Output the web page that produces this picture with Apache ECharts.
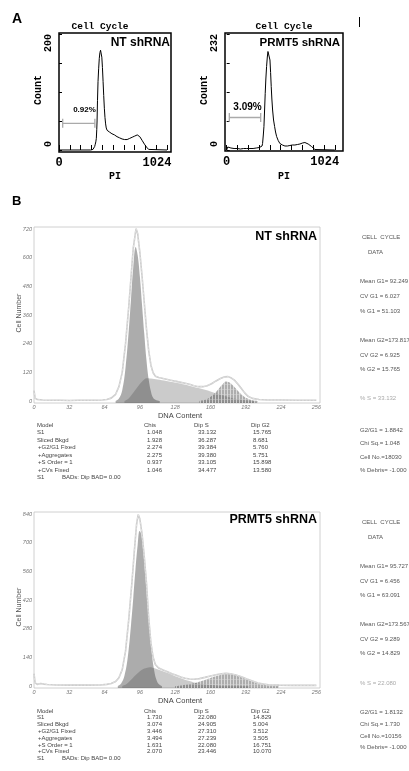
<!DOCTYPE html>
<html>
<head>
<meta charset="utf-8">
<script src="https://cdn.jsdelivr.net/npm/echarts@6/dist/echarts.min.js"></script>
<style>
  html, body { margin: 0; padding: 0; background: #fff; }
  #chart { width: 409px; height: 771px; }
</style>
</head>
<body>
<div id="chart"></div>
<script>
// ---- panel A: cell cycle histograms (PI channel, count) ----
const ntHist = [[0,0],[200,0],[300,0],[322,1],[331,3],[338,6],[344,10],[349,14],[354,20],[358,35],[361,50],[365,85],[370,118],[376,140],[382,158],[388,168],[394,172],[400,170],[406,160],[412,142],[418,118],[424,94],[430,72],[436,56],[442,45],[448,38],[456,34],[466,32],[478,31],[490,29],[502,28],[514,27],[526,26],[538,24],[550,23],[562,22],[574,21],[586,20],[598,19],[610,18],[622,18],[634,17],[646,18],[658,19],[670,20],[682,21],[694,22],[706,23],[718,24],[730,26],[742,26],[754,25],[766,23],[778,20],[790,16],[800,13],[810,10],[820,7],[830,5],[840,3],[850,1],[860,0],[1024,0]];
const prmtHist = [[0,0],[10,6],[20,5],[40,4],[70,3],[100,3],[130,2],[160,3],[190,3],[220,3],[250,3],[280,4],[310,5],[325,6],[335,8],[340,13],[347,30],[353,47],[359,80],[365,113],[371,142],[378,167],[385,186],[391,197],[397,199],[403,193],[410,180],[416,155],[422,127],[428,102],[435,80],[444,60],[454,47],[463,36],[473,27],[488,19],[504,13],[528,10],[552,8],[575,8],[599,9],[622,10],[646,10],[670,11],[694,12],[718,14],[741,15],[757,14],[772,12],[788,10],[804,7],[820,4],[836,1],[850,0],[1024,0]];
const ntGateRange = [35, 340];
const ntGateLevel = 46;
const prmtGateRange = [25, 322];
const prmtGateLevel = 65;
const aXTicks = [0, 102.4, 204.8, 307.2, 409.6, 512, 614.4, 716.8, 819.2, 921.6, 1024];
const aXLabels = [0, 1024];
const ntYTicks = [0, 50, 100, 150, 200];
const ntYLabels = [0, 200];
const prmtYTicks = [0, 58, 116, 174, 232];
const prmtYLabels = [0, 232];

// ---- panel B: ModFit fits (DNA content channel, cell number) ----
const ntRaw = [[0,45],[1,12],[3,6],[8,4],[16,3],[24,3],[32,2],[40,3],[48,3],[56,3],[62,4],[66,6],[70,12],[74,28],[77,60],[80,120],[83,240],[86,400],[88,520],[90,640],[92.5,722],[94,700],[96,620],[98,520],[100,410],[102,300],[104,210],[106,150],[108,118],[110,104],[113,98],[117,94],[121,90],[125,86],[129,82],[133,78],[137,74],[141,70],[145,64],[149,60],[153,60],[157,64],[161,72],[165,84],[169,94],[173,101],[176,102],[179,96],[182,86],[185,70],[188,52],[191,34],[194,20],[198,11],[204,6],[212,4],[224,4],[240,3],[256,3]];
const ntG1 = [[74,0],[77,10],[80,45],[83,140],[86,300],[88,430],[90,560],[92.2,645],[94,610],[96,520],[98,400],[100,280],[102,170],[104,90],[106,40],[108,14],[111,3],[114,0]];
const ntS = [[82,0],[86,12],[90,35],[94,60],[98,82],[102,95],[106,94],[112,90],[120,84],[130,75],[140,65],[150,53],[160,40],[168,28],[176,17],[184,8],[192,3],[200,0]];
const ntG2 = [[150,0],[155,5],[159,14],[163,28],[167,48],[171,70],[174,82],[177,78],[181,62],[185,42],[189,24],[193,11],[197,4],[203,0]];

const prmtRaw = [[0,60],[1,15],[3,8],[6,12],[9,9],[12,7],[20,5],[32,4],[48,4],[60,5],[66,8],[70,12],[74,22],[77,40],[80,80],[83,170],[86,330],[89,520],[91,660],[93,790],[94.5,838],[96,815],[98,740],[100,630],[102,500],[104,330],[106,210],[108,140],[110,105],[113,88],[117,78],[121,70],[125,60],[129,52],[133,44],[137,38],[141,34],[145,33],[150,36],[155,42],[160,49],[165,55],[170,60],[174,62],[178,60],[183,54],[188,45],[193,34],[198,24],[203,15],[208,9],[214,5],[222,4],[235,3],[256,3]];
const prmtG1 = [[76,0],[79,12],[82,50],[85,140],[88,300],[90,430],[92,570],[94,690],[95.7,757],[97,745],[99,660],[101,530],[103,390],[105,260],[107,150],[109,75],[111,30],[113,10],[116,0]];
const prmtS = [[80,0],[84,10],[88,30],[92,52],[96,72],[100,85],[105,92],[110,86],[115,76],[120,66],[125,55],[130,44],[135,34],[140,25],[145,17],[150,11],[158,6],[166,3],[180,1],[195,0]];
const prmtG2 = [[128,0],[134,3],[140,8],[146,15],[152,24],[158,35],[164,46],[170,55],[174,58],[178,57],[184,50],[190,39],[196,26],[202,14],[208,6],[214,2],[222,0]];

const bXLabels = [0, 32, 64, 96, 128, 160, 192, 224, 256];
const ntYLabelsB = [0, 120, 240, 360, 480, 600, 720];
const prmtYLabelsB = [0, 140, 280, 420, 560, 700, 840];

// ---- ModFit tables / stats ----
const tableHead = ['Model', 'Chis', 'Dip S', 'Dip G2'];
const modelNames = ['S1', 'Sliced Bkgd', '+G2/G1 Fixed', '+Aggregates', '+S Order = 1', '+CVs Fixed'];
const ntChis = [1.048, 1.928, 2.274, 2.275, 0.937, 1.046];
const ntDipS = [33.132, 36.287, 39.384, 39.380, 33.105, 34.477];
const ntDipG2 = [15.765, 8.681, 5.760, 5.751, 15.898, 13.580];
const prmtChis = [1.730, 3.074, 3.446, 3.494, 1.631, 2.070];
const prmtDipS = [22.080, 24.905, 27.310, 27.239, 22.080, 23.446];
const prmtDipG2 = [14.829, 5.004, 3.512, 3.505, 16.751, 10.070];
const ntStats = ['Mean G1= 92.249', 'CV G1 = 6.027', '% G1 = 51.103', 'Mean G2=173.817', 'CV G2 = 6.925', '% G2 = 15.765', '% S = 33.132', 'G2/G1 = 1.8842', 'Chi Sq.= 1.048', 'Cell No.=18030', '% Debris= -1.000'];
const prmtStats = ['Mean G1= 95.727', 'CV G1 = 6.456', '% G1 = 63.091', 'Mean G2=173.567', 'CV G2 = 9.289', '% G2 = 14.829', '% S = 22.080', 'G2/G1 = 1.8132', 'Chi Sq.= 1.730', 'Cell No.=10156', '% Debris= -1.000'];

const MONO = "'Liberation Mono', 'DejaVu Sans Mono', monospace";
const SANS = "'Liberation Sans', Arial, sans-serif";

function txt(x, y, text, font, fill, align, rotation) {
  return {
    type: 'text', x: x, y: y, rotation: rotation || 0, silent: true,
    style: { text: text, font: font, fill: fill || '#000', align: align || 'left', verticalAlign: 'middle' }
  };
}

// vertical hatch used for the G2 peak
function hatch() {
  const c = document.createElement('canvas');
  c.width = 3; c.height = 5;
  const g = c.getContext('2d');
  g.fillStyle = 'rgba(60,60,60,0.42)';
  g.fillRect(0, 0, 3, 5);
  g.fillStyle = 'rgba(255,255,255,0.55)';
  g.fillRect(2, 0, 1, 5);
  g.fillStyle = 'rgba(255,255,255,0.25)';
  g.fillRect(0, 4, 2, 1);
  return c;
}
const hatchImg = hatch();

function aXAxis(grid, min, max) {
  return {
    gridIndex: grid, type: 'value', min: min, max: max,
    axisLine: { show: false }, splitLine: { show: false },
    axisTick: { show: true, inside: true, length: 5, customValues: aXTicks, lineStyle: { color: '#000', width: 1 } },
    axisLabel: {
      customValues: aXLabels, margin: 5,
      formatter: v => v === 1024 ? '{r|1024}' : '{c|' + v + '}',
      rich: {
        r: { padding: [0, 20, 0, 0], fontFamily: MONO, fontWeight: 'bold', fontSize: 12, color: '#000' },
        c: { fontFamily: MONO, fontWeight: 'bold', fontSize: 12, color: '#000' }
      }
    }
  };
}
function aYAxis(grid, min, max, ticks, labels) {
  return {
    gridIndex: grid, type: 'value', min: min, max: max,
    axisLine: { show: false }, splitLine: { show: false },
    axisTick: { show: true, inside: true, length: 3, customValues: ticks, lineStyle: { color: '#000', width: 1 } },
    axisLabel: {
      customValues: labels, rotate: 90, margin: 6,
      formatter: v => v === 0 ? '{b|0}' : '{t|' + v + '}',
      rich: {
        t: { padding: [0, 18, 0, 0], fontFamily: MONO, fontWeight: 'bold', fontSize: 10, color: '#000' },
        b: { padding: [0, 0, 0, 12], fontFamily: MONO, fontWeight: 'bold', fontSize: 10, color: '#000' }
      }
    }
  };
}
const bLabel = { fontFamily: SANS, fontStyle: 'italic', fontSize: 5.5, color: '#777' };
function bXAxis(grid) {
  return {
    gridIndex: grid, type: 'value', min: 0, max: 259.3,
    axisLine: { show: false }, splitLine: { show: false }, axisTick: { show: false },
    axisLabel: Object.assign({ customValues: bXLabels, margin: 1 }, bLabel)
  };
}
function bYAxis(grid, min, max, labels) {
  return {
    gridIndex: grid, type: 'value', min: min, max: max,
    axisLine: { show: false }, splitLine: { show: false }, axisTick: { show: false },
    axisLabel: Object.assign({ customValues: labels, margin: 2 }, bLabel)
  };
}

function histSeries(i, data) {
  return { type: 'line', xAxisIndex: i, yAxisIndex: i, data: data, symbol: 'none', silent: true,
    lineStyle: { color: '#000', width: 1 } };
}
function gateSeries(i, range, level) {
  return { type: 'line', xAxisIndex: i, yAxisIndex: i, data: range.map(x => [x, level]),
    symbol: 'rect', symbolSize: [1.3, 9], silent: true,
    itemStyle: { color: '#aaa' }, lineStyle: { color: '#aaa', width: 1.3 } };
}
function area(i, data, color, smooth) {
  return { type: 'line', xAxisIndex: i, yAxisIndex: i, data: data, symbol: 'none', silent: true,
    smooth: smooth, lineStyle: { opacity: 0 }, areaStyle: { color: color, origin: 'start', opacity: 1 } };
}
function rawSeries(i, data) {
  return [
    { type: 'line', xAxisIndex: i, yAxisIndex: i, data: data, symbol: 'none', silent: true,
      lineStyle: { color: '#c6c6c6', width: 1.6 } },
    { type: 'line', xAxisIndex: i, yAxisIndex: i, data: data, symbol: 'none', silent: true,
      lineStyle: { color: '#fff', width: 0.7, type: 'dotted' } }
  ];
}
function modfit(i, raw, s, g1, g2) {
  return [
    area(i, s, 'rgba(70,70,70,0.28)', 0.3),
    area(i, g1, 'rgba(70,70,70,0.45)', 0.4),
    area(i, g2, { image: hatchImg, repeat: 'repeat' }, 0.4)
  ].concat(rawSeries(i, raw));
}

function fmt(v) { return v.toFixed(3); }
function tableGraphics(y0, dy, chis, dipS, dipG2) {
  const f = '6px ' + SANS, c = '#444';
  const out = [
    txt(37, y0, tableHead[0], f, c), txt(144, y0, tableHead[1], f, c),
    txt(194, y0, tableHead[2], f, c), txt(251, y0, tableHead[3], f, c)
  ];
  modelNames.forEach((m, k) => {
    const y = y0 + dy * (k + 1);
    out.push(txt(m[0] === '+' ? 38 : 37, y, m, f, c));
    out.push(txt(147, y, fmt(chis[k]), f, c));
    out.push(txt(198, y, fmt(dipS[k]), f, c));
    out.push(txt(253, y, fmt(dipG2[k]), f, c));
  });
  const yb = y0 + dy * 7;
  out.push(txt(37, yb, 'S1', f, c));
  out.push(txt(62, yb, 'BADs: Dip BAD= 0.00', f, c));
  return out;
}
function statGraphics(ys, stats, yHead) {
  const f = '6px ' + SANS;
  const out = [txt(362, yHead, 'CELL  CYCLE', f, '#555'), txt(368, yHead + 15, 'DATA', f, '#555')];
  stats.forEach((s, k) => out.push(txt(360, ys[k], s, f, k === 6 ? '#aaa' : '#555')));
  return out;
}
const statYTop = [281, 296, 311, 340, 355, 369, 398, 430, 443, 457, 470];
const statYBot = [566, 581, 595, 624, 639, 653, 683, 712.5, 724.5, 736, 747];

const chart = echarts.init(document.getElementById('chart'), null, { renderer: 'canvas' });
const option = {
  animation: false,
  backgroundColor: '#fff',
  grid: [
    { left: 59, top: 33, width: 112, height: 119, show: true, borderColor: '#000', borderWidth: 1.5 },
    { left: 225, top: 33, width: 118, height: 118, show: true, borderColor: '#000', borderWidth: 1.5 },
    { left: 34, top: 227, width: 286, height: 176, show: true, borderColor: '#c4c4c4', borderWidth: 0.8 },
    { left: 34, top: 512, width: 286, height: 176, show: true, borderColor: '#c4c4c4', borderWidth: 0.8 }
  ],
  xAxis: [aXAxis(0, 0, 1062), aXAxis(1, -16, 1102), bXAxis(2), bXAxis(3)],
  yAxis: [
    aYAxis(0, -3.45, 201.7, ntYTicks, ntYLabels),
    aYAxis(1, -2, 234, prmtYTicks, prmtYLabels),
    bYAxis(2, -8.4, 728.4, ntYLabelsB),
    bYAxis(3, -9.8, 849.8, prmtYLabelsB)
  ],
  series: [
    histSeries(0, ntHist), gateSeries(0, ntGateRange, ntGateLevel),
    histSeries(1, prmtHist), gateSeries(1, prmtGateRange, prmtGateLevel)
  ].concat(modfit(2, ntRaw, ntS, ntG1, ntG2), modfit(3, prmtRaw, prmtS, prmtG1, prmtG2)),
  graphic: [
    txt(12, 19.5, 'A', 'bold 14px ' + SANS, '#000'),
    txt(100, 27, 'Cell Cycle', 'bold 9.5px ' + MONO, '#000', 'center'),
    txt(284, 27, 'Cell Cycle', 'bold 9.5px ' + MONO, '#000', 'center'),
    txt(38, 90, 'Count', 'bold 10px ' + MONO, '#000', 'center', Math.PI / 2),
    txt(204, 90, 'Count', 'bold 10px ' + MONO, '#000', 'center', Math.PI / 2),
    txt(115, 176, 'PI', 'bold 10px ' + MONO, '#000', 'center'),
    txt(284, 176, 'PI', 'bold 10px ' + MONO, '#000', 'center'),
    txt(170, 43, 'NT shRNA', 'bold 12px ' + SANS, '#000', 'right'),
    txt(340, 43, 'PRMT5 shRNA', 'bold 11.5px ' + SANS, '#000', 'right'),
    txt(84.5, 110, '0.92%', 'bold 8px ' + SANS, '#000', 'center'),
    txt(247.5, 107.5, '3.09%', 'bold 10px ' + SANS, '#000', 'center'),
    { type: 'line', silent: true, shape: { x1: 359.5, y1: 17, x2: 359.5, y2: 27 }, style: { stroke: '#000', lineWidth: 1 } },
    txt(12, 201.5, 'B', 'bold 13px ' + SANS, '#000'),
    txt(317, 237, 'NT shRNA', 'bold 12.5px ' + SANS, '#000', 'right'),
    txt(317, 520, 'PRMT5 shRNA', 'bold 12.5px ' + SANS, '#000', 'right'),
    txt(180, 416, 'DNA Content', '7.5px ' + SANS, '#444', 'center'),
    txt(180, 701, 'DNA Content', '7.5px ' + SANS, '#444', 'center'),
    txt(19, 313, 'Cell Number', '7px ' + SANS, '#555', 'center', Math.PI / 2),
    txt(19, 607, 'Cell Number', '7px ' + SANS, '#555', 'center', Math.PI / 2)
  ].concat(
    tableGraphics(425, 7.5, ntChis, ntDipS, ntDipG2),
    tableGraphics(711, 6.8, prmtChis, prmtDipS, prmtDipG2),
    statGraphics(statYTop, ntStats, 237),
    statGraphics(statYBot, prmtStats, 522)
  )
};
chart.setOption(option);
</script>
</body>
</html>
